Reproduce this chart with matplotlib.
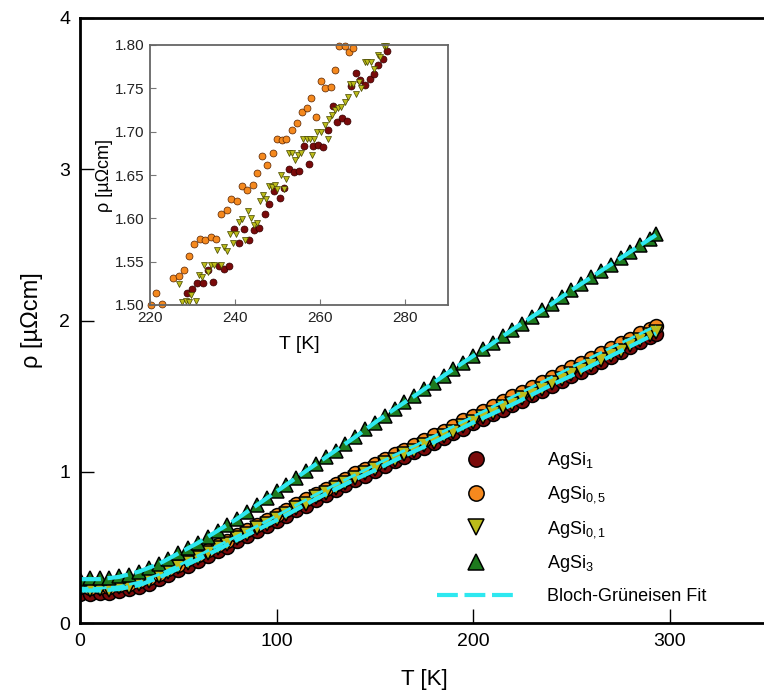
import matplotlib
matplotlib.use("Agg")
import matplotlib.pyplot as plt

plt.rcParams['font.family'] = ['Liberation Sans', 'DejaVu Sans']
plt.rcParams['mathtext.fontset'] = 'custom'
plt.rcParams['mathtext.rm'] = 'Liberation Sans'
plt.rcParams['mathtext.it'] = 'Liberation Sans:italic'

# ---------------- main data ----------------
T_main = [0, 5, 10, 15, 20, 25, 30, 35, 40, 45, 50, 55, 60, 65, 70, 75, 80, 85, 90, 95,
          100, 105, 110, 115, 120, 125, 130, 135, 140, 145, 150, 155, 160, 165, 170, 175,
          180, 185, 190, 195, 200, 205, 210, 215, 220, 225, 230, 235, 240, 245, 250, 255,
          260, 265, 270, 275, 280, 285, 290, 293]

rho_agsi1 = [0.195, 0.19, 0.20, 0.20, 0.21, 0.225, 0.24, 0.26, 0.29, 0.315, 0.35, 0.38,
             0.41, 0.44, 0.475, 0.505, 0.54, 0.575, 0.605, 0.64, 0.675, 0.705, 0.745, 0.775,
             0.815, 0.845, 0.88, 0.91, 0.945, 0.975, 1.005, 1.04, 1.07, 1.10, 1.13, 1.16,
             1.19, 1.225, 1.255, 1.285, 1.32, 1.35, 1.38, 1.41, 1.44, 1.47, 1.505, 1.535,
             1.57, 1.60, 1.63, 1.66, 1.69, 1.725, 1.76, 1.79, 1.825, 1.855, 1.89, 1.91]

rho_agsi05 = [0.235, 0.23, 0.24, 0.235, 0.25, 0.26, 0.275, 0.295, 0.325, 0.355, 0.385, 0.42,
              0.45, 0.48, 0.515, 0.545, 0.58, 0.615, 0.645, 0.68, 0.715, 0.745, 0.785, 0.82,
              0.855, 0.885, 0.92, 0.955, 0.99, 1.02, 1.05, 1.085, 1.115, 1.145, 1.175, 1.21,
              1.24, 1.27, 1.305, 1.34, 1.37, 1.40, 1.435, 1.465, 1.50, 1.53, 1.56, 1.595,
              1.625, 1.66, 1.69, 1.72, 1.755, 1.785, 1.815, 1.85, 1.88, 1.915, 1.945, 1.965]

rho_agsi01 = [0.22, 0.215, 0.225, 0.22, 0.235, 0.24, 0.26, 0.28, 0.31, 0.335, 0.37, 0.40,
              0.43, 0.46, 0.495, 0.52, 0.56, 0.59, 0.625, 0.655, 0.69, 0.72, 0.76, 0.79,
              0.83, 0.86, 0.895, 0.925, 0.96, 0.99, 1.02, 1.055, 1.08, 1.115, 1.14, 1.175,
              1.20, 1.235, 1.265, 1.30, 1.33, 1.36, 1.39, 1.425, 1.45, 1.485, 1.515, 1.55,
              1.585, 1.61, 1.645, 1.675, 1.705, 1.74, 1.77, 1.80, 1.84, 1.87, 1.905, 1.925]

rho_agsi3 = [0.29, 0.30, 0.295, 0.30, 0.31, 0.32, 0.34, 0.365, 0.39, 0.425, 0.46, 0.495,
             0.53, 0.57, 0.61, 0.65, 0.69, 0.735, 0.78, 0.825, 0.87, 0.915, 0.96, 1.005,
             1.05, 1.095, 1.14, 1.185, 1.23, 1.28, 1.325, 1.37, 1.415, 1.46, 1.50, 1.545,
             1.59, 1.635, 1.68, 1.72, 1.765, 1.81, 1.85, 1.895, 1.94, 1.98, 2.025, 2.07,
             2.11, 2.155, 2.20, 2.24, 2.285, 2.33, 2.37, 2.415, 2.455, 2.50, 2.54, 2.575]

# Bloch-Grueneisen fit curves
T_fit = [0, 10, 20, 30, 40, 50, 60, 70, 80, 90, 100, 110, 120, 130, 140, 150, 160, 170,
         180, 190, 200, 210, 220, 230, 240, 250, 260, 270, 280, 290, 293]
fit_agsi3 = [0.29, 0.29, 0.305, 0.34, 0.39, 0.46, 0.53, 0.61, 0.69, 0.78, 0.87, 0.96, 1.05,
             1.14, 1.23, 1.325, 1.415, 1.50, 1.59, 1.68, 1.765, 1.85, 1.94, 2.025, 2.11,
             2.20, 2.285, 2.37, 2.455, 2.54, 2.565]
fit_low_a = [0.215, 0.215, 0.225, 0.25, 0.30, 0.36, 0.42, 0.485, 0.55, 0.615, 0.68, 0.75,
             0.82, 0.885, 0.95, 1.01, 1.075, 1.135, 1.195, 1.26, 1.325, 1.385, 1.445, 1.51,
             1.575, 1.635, 1.70, 1.765, 1.83, 1.895, 1.915]
fit_low_b = [0.23, 0.23, 0.24, 0.27, 0.32, 0.38, 0.445, 0.51, 0.575, 0.64, 0.71, 0.78,
             0.85, 0.915, 0.98, 1.045, 1.11, 1.17, 1.235, 1.30, 1.365, 1.43, 1.495, 1.56,
             1.625, 1.69, 1.755, 1.82, 1.88, 1.945, 1.96]

# ---------------- inset data ----------------
Ti_agsi05 = [220.2, 221.5, 222.8, 225.5, 226.7, 228.0, 229.2, 230.4, 231.7, 232.9, 234.3,
             235.6, 236.7, 238.0, 239.0, 240.4, 241.6, 242.9, 244.1, 245.2, 246.4, 247.5,
             248.8, 249.8, 250.9, 252.0, 253.3, 254.5, 255.6, 256.8, 257.8, 259.0, 260.1,
             261.2, 262.4, 263.5, 264.5, 265.8, 266.7, 267.8]
ri_agsi05 = [1.500, 1.514, 1.501, 1.531, 1.533, 1.540, 1.557, 1.570, 1.576, 1.575, 1.579,
             1.576, 1.605, 1.610, 1.622, 1.620, 1.637, 1.633, 1.639, 1.652, 1.672, 1.661,
             1.675, 1.692, 1.690, 1.692, 1.702, 1.710, 1.723, 1.727, 1.739, 1.717, 1.759,
             1.750, 1.752, 1.771, 1.799, 1.799, 1.792, 1.796]

Ti_agsi1 = [228.7, 229.9, 231.0, 232.4, 233.6, 234.9, 236.1, 237.3, 238.5, 239.8, 240.9,
            242.1, 243.3, 244.5, 245.6, 246.9, 248.0, 249.1, 250.5, 251.5, 252.7, 253.9,
            255.1, 256.1, 257.3, 258.3, 259.5, 260.7, 261.8, 263.0, 264.0, 265.0, 266.2,
            267.2, 268.3, 269.4, 270.5, 271.6, 272.6, 273.6, 274.7, 275.7]
ri_agsi1 = [1.514, 1.518, 1.525, 1.525, 1.540, 1.526, 1.545, 1.541, 1.545, 1.588, 1.571,
            1.588, 1.575, 1.587, 1.589, 1.605, 1.616, 1.632, 1.623, 1.635, 1.657, 1.654,
            1.655, 1.683, 1.663, 1.683, 1.685, 1.682, 1.702, 1.730, 1.711, 1.716, 1.712,
            1.753, 1.768, 1.760, 1.754, 1.761, 1.767, 1.777, 1.784, 1.793]

Ti_agsi01 = [226.7, 227.6, 228.4, 229.2, 229.7, 230.7, 231.4, 232.1, 232.8, 233.6, 234.4,
             235.1, 235.7, 236.6, 237.3, 238.0, 238.7, 239.5, 240.3, 240.8, 241.7, 242.4,
             243.0, 243.7, 244.4, 245.2, 245.8, 246.6, 247.3, 248.0, 248.6, 249.4, 249.8,
             250.7, 251.4, 252.0, 252.6, 253.3, 254.0, 254.8, 255.4, 256.0, 256.8, 257.5,
             258.0, 258.6, 259.3, 260.1, 261.0, 261.7, 262.1, 262.8, 263.5, 264.2, 264.9,
             265.7, 266.4, 267.0, 267.7, 268.4, 269.0, 269.6, 270.4, 271.0, 271.8, 272.6,
             273.5, 274.1, 275.0, 275.5]
ri_agsi01 = [1.524, 1.504, 1.505, 1.504, 1.512, 1.505, 1.535, 1.532, 1.546, 1.538, 1.546,
             1.546, 1.564, 1.546, 1.567, 1.562, 1.582, 1.571, 1.582, 1.596, 1.599, 1.575,
             1.608, 1.600, 1.592, 1.595, 1.620, 1.627, 1.622, 1.637, 1.636, 1.638, 1.634,
             1.650, 1.634, 1.645, 1.675, 1.675, 1.667, 1.673, 1.675, 1.692, 1.691, 1.692,
             1.673, 1.692, 1.700, 1.700, 1.708, 1.692, 1.715, 1.719, 1.725, 1.727, 1.729,
             1.734, 1.740, 1.755, 1.755, 1.744, 1.757, 1.750, 1.780, 1.780, 1.780, 1.772,
             1.788, 1.786, 1.799, 1.799]

labels = ['AgSi$_\\mathregular{1}$', 'AgSi$_\\mathregular{0,5}$',
          'AgSi$_\\mathregular{0,1}$', 'AgSi$_\\mathregular{3}$', 'Bloch-Grüneisen Fit']

c_red = '#7a0a0a'
c_orange = '#f5891e'
c_yellow = '#bcbc1a'
c_green = '#1e7a1e'
c_cyan = '#2ee8f0'

fig = plt.figure(figsize=(7.64, 7.0), dpi=100)
ax = fig.add_axes([80 / 764, 77 / 700, 688 / 764, 605 / 700])

ms = 10
mew = 1.1
h1, = ax.plot(T_main, rho_agsi1, 'o', ms=ms, mfc=c_red, mec='black', mew=mew, label=labels[0])
h2, = ax.plot(T_main, rho_agsi05, 'o', ms=ms, mfc=c_orange, mec='black', mew=mew, label=labels[1])
h3, = ax.plot(T_main, rho_agsi01, 'v', ms=ms, mfc=c_yellow, mec='black', mew=mew, label=labels[2])
h4, = ax.plot(T_main, rho_agsi3, '^', ms=ms, mfc=c_green, mec='black', mew=mew, label=labels[3])

dash = (5.0, 1.6)
h5, = ax.plot(T_fit, fit_agsi3, color=c_cyan, lw=3, ls=(0, dash), label=labels[4])
ax.plot(T_fit, fit_low_a, color=c_cyan, lw=3, ls=(0, dash))
ax.plot(T_fit, fit_low_b, color=c_cyan, lw=2, ls=(2, dash))

ax.set_xlim(0, 350)
ax.set_ylim(0, 4)
ax.set_xticks([0, 100, 200, 300])
ax.set_yticks([0, 1, 2, 3, 4])
ax.tick_params(direction='in', length=10, width=1, labelsize=14, pad=7)
for s in ax.spines.values():
    s.set_linewidth(2)
ax.set_xlabel('T [K]', fontsize=16, labelpad=14)
ax.set_ylabel('ρ [µΩcm]', fontsize=17, labelpad=12)

leg = ax.legend(handles=[h1, h2, h3, h4, h5], loc='upper left',
                bbox_to_anchor=(437 / 764, (700 - 450) / 700), bbox_transform=fig.transFigure,
                frameon=False, fontsize=13, handlelength=4.3, handletextpad=1.8,
                labelspacing=0.75, borderpad=0, borderaxespad=0, markerscale=1.1)

# ---------------- inset ----------------
ax2 = fig.add_axes([150 / 764, (700 - 305) / 700, 298 / 764, 260 / 700])
ims = 5
ax2.plot(Ti_agsi05, ri_agsi05, 'o', ms=ims, mfc=c_orange, mec='#552200', mew=0.5, clip_on=False)
ax2.plot(Ti_agsi1, ri_agsi1, 'o', ms=ims, mfc=c_red, mec='#330000', mew=0.5, clip_on=False)
ax2.plot(Ti_agsi01, ri_agsi01, 'v', ms=ims, mfc=c_yellow, mec='#444400', mew=0.5, clip_on=False)
ax2.set_xlim(220, 290)
ax2.set_ylim(1.5, 1.8)
ax2.set_xticks([220, 240, 260, 280])
ax2.set_yticks([1.50, 1.55, 1.60, 1.65, 1.70, 1.75, 1.80])
ax2.set_yticklabels(['1.50', '1.55', '1.60', '1.65', '1.70', '1.75', '1.80'])
ax2.tick_params(direction='in', length=4, width=0.8, color='#777777', labelsize=11,
                labelcolor='#222222', pad=4)
for s in ax2.spines.values():
    s.set_linewidth(1.3)
    s.set_color('#666666')
ax2.set_xlabel('T [K]', fontsize=14, labelpad=8)
ax2.set_ylabel('ρ [µΩcm]', fontsize=13, labelpad=1)

fig.savefig('out.png', dpi=100)
